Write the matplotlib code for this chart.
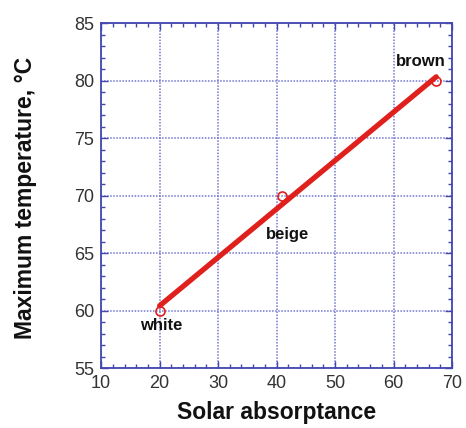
import matplotlib
matplotlib.use("Agg")
import matplotlib.pyplot as plt
import numpy as np
from matplotlib.ticker import MultipleLocator

plt.rcParams['font.family'] = ['Liberation Sans', 'DejaVu Sans']

colors = ["white", "beige", "brown"]
absorptance = [20.0, 41.0, 67.3]
max_temp = [60.0, 70.0, 80.0]

blue = "#4346b0"
red = "#e0201c"

fig = plt.figure(figsize=(4.66, 4.28), dpi=100)
ax = fig.add_axes([0.217, 0.140, 0.753, 0.806])

# least-squares trend line across the measured range
slope, intercept = np.polyfit(absorptance, max_temp, 1)
xfit = np.array([min(absorptance), max(absorptance)])
ax.plot(xfit, slope * xfit + intercept, color=red, lw=3.8,
        solid_capstyle="round", zorder=3)
ax.plot(absorptance, max_temp, "o", ms=6.5, mfc="none", mec=red, mew=1.2, zorder=4)

offsets = {"white": (1, -11), "beige": (4, -28), "brown": (-11, 14)}
for name, x, y in zip(colors, absorptance, max_temp):
    dx, dy = offsets[name]
    ax.annotate(name, (x, y), xytext=(dx, dy), textcoords="offset points",
                ha="center", va="center", fontsize=12, fontweight="bold",
                color="#111111")

ax.set_xlim(10, 70)
ax.set_ylim(55, 85)
ax.xaxis.set_major_locator(MultipleLocator(10))
ax.xaxis.set_minor_locator(MultipleLocator(2))
ax.yaxis.set_major_locator(MultipleLocator(5))
ax.yaxis.set_minor_locator(MultipleLocator(1))

ax.grid(True, which="major", color="#5a5ec8", ls=(0, (1, 1)), lw=1.1, alpha=0.85)
for s in ax.spines.values():
    s.set_color(blue)
    s.set_linewidth(1.3)
ax.tick_params(which="both", direction="in", top=True, right=True, color=blue)
ax.tick_params(which="major", length=5, width=1, labelsize=13, labelcolor="#333333", pad=5)
ax.tick_params(which="minor", length=3, width=1)

ax.set_xlabel("Solar absorptance", fontsize=16.5, fontweight="bold",
              va="center", ha="center", color="#111111")
ax.set_ylabel("Maximum temperature, °C", fontsize=16.5, fontweight="bold",
              va="center", ha="center", color="#111111")
ax.xaxis.set_label_coords(0.4986, -0.130)
ax.yaxis.set_label_coords(-0.2165, 0.494)

fig.savefig("out.png", dpi=100)
